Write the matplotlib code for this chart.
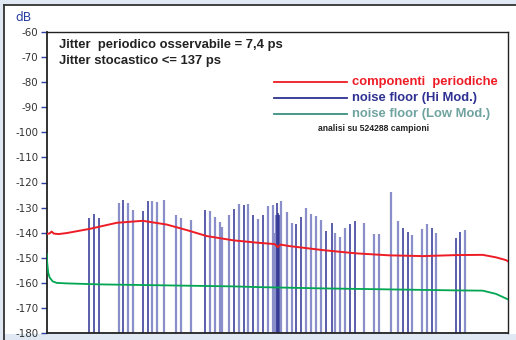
import numpy as np
import matplotlib.pyplot as plt
from matplotlib.patches import Rectangle
from matplotlib.lines import Line2D

plt.rcParams['axes.unicode_minus'] = False

# spettro: posizione (bin) e livello (dB) delle righe spettrali
spike_x = [42.6, 47.6, 52.6, 72.0, 76.6, 81.3, 86.3, 96.0, 101.0, 105.6,
           110.3, 117.0, 129.3, 134.3, 144.0, 158.3, 163.3, 168.3, 173.0, 175.6,
           182.0, 187.0, 192.0, 197.0, 201.6, 206.6, 211.3, 216.0, 221.0, 226.0,
           227.6, 229.3, 230.6, 231.6, 232.3, 234.0, 240.0, 245.0, 249.6, 254.6,
           259.3, 264.3, 269.0, 274.0, 279.0, 285.6, 288.3, 293.3, 298.0, 303.0,
           308.0, 317.0, 327.0, 332.0, 344.3, 351.0, 356.0, 361.0, 365.6, 375.3,
           380.0, 385.0, 389.6, 409.0, 413.6, 418.6]
spike_db = [-134.1, -132.6, -134.1, -128.0, -126.9, -128.0, -130.8, -131.2, -127.3, -127.4,
            -127.7, -126.9, -133.0, -134.2, -135.0, -130.8, -131.3, -133.6, -135.6, -137.8,
            -132.9, -130.6, -128.6, -128.9, -128.5, -133.0, -134.5, -133.0, -129.3, -128.9,
            -140.0, -133.0, -128.3, -132.0, -133.0, -127.3, -131.6, -136.0, -136.5, -133.6,
            -130.1, -132.6, -133.4, -134.8, -139.4, -136.1, -140.3, -141.8, -138.2, -136.5,
            -135.3, -136.2, -140.7, -140.6, -123.7, -135.3, -138.2, -139.9, -141.0, -138.6,
            -136.6, -138.0, -140.2, -142.3, -139.9, -138.9]
# 1 = noise floor Hi Mod. (scuro), 0 = chiaro
spike_dark = [1, 1, 1, 0, 1, 0, 0, 1, 1, 0,
              0, 0, 0, 0, 0, 1, 0, 0, 0, 0,
              0, 1, 0, 1, 0, 1, 0, 1, 0, 0,
              0, 0, 1, 1, 1, 0, 0, 0, 1, 1,
              0, 0, 0, 0, 1, 1, 0, 0, 0, 1,
              1, 0, 0, 0, 0, 0, 1, 1, 0, 0,
              0, 1, 0, 1, 1, 0]

# componenti periodiche (rosso)
red_x = [0, 3, 5, 7, 12, 20, 43.3, 70, 96, 120, 140, 160, 186.6, 209.3,
         228, 231, 234, 242.6, 276, 309.3, 342.6, 376, 409.3, 436, 449.3, 459.3, 461.3]
red_db = [-140.6, -140.3, -139.6, -140.4, -140.6, -140.2, -138.5, -136.1, -135.3, -136.8,
          -139.0, -141.4, -143.1, -144.0, -144.6, -145.8, -144.8, -145.4, -147.0, -148.3,
          -149.1, -149.4, -149.0, -148.9, -149.9, -151.0, -151.5]

# noise floor Low Mod. (verde)
green_x = [0, 0.5, 1.5, 3, 6, 10, 20, 53, 120, 186.6, 213, 276, 342.6, 409.3, 436, 449.3, 461.3]
green_db = [-148.5, -152.0, -156.0, -158.0, -159.5, -160.1, -160.3, -160.7, -161.1, -161.5,
            -161.8, -162.3, -162.7, -163.1, -163.2, -164.5, -166.7]

yticks = list(range(-60, -181, -10))

fig = plt.figure(figsize=(5.16, 3.40), dpi=100)
fig.patch.set_facecolor('#dfe8f3')
fig.patches.append(Rectangle((4 / 516, 6 / 340), 1, 329 / 340, transform=fig.transFigure,
                             facecolor='white', edgecolor='none', zorder=-5))
fig.lines.append(Line2D([3.5 / 516, 1], [335 / 340, 335 / 340], transform=fig.transFigure,
                        color='#333333', lw=1.3, zorder=-4))
fig.lines.append(Line2D([3.5 / 516, 3.5 / 516], [0, 335 / 340], transform=fig.transFigure,
                        color='#333333', lw=1.3, zorder=-4))

ax = fig.add_axes([46.7 / 516, 7.3 / 340, 461.3 / 516, 300.4 / 340])
ax.set_facecolor('none')
ax.set_zorder(2)
ax.set_xlim(0, 461.3)
ax.set_ylim(-180, -60)

dark_c = '#2e3192'
light_c = '#8b8fc9'
xs = np.array(spike_x)
ys = np.array(spike_db)
dk = np.array(spike_dark) == 1
ax.vlines(xs[~dk], -180, ys[~dk], color=light_c, lw=1.6, zorder=2)
ax.vlines(xs[dk], -180, ys[dk], color=dark_c, lw=1.1, zorder=2)

ax.plot(red_x, red_db, color='#ee1c25', lw=1.4, zorder=3)
ax.plot(green_x, green_db, color='#00a651', lw=1.3, zorder=3)

ax.set_yticks(yticks)
ax.set_xticks([])
ax.tick_params(axis='y', direction='out', length=4.5, width=1, color='#3040a0',
               labelsize=7.4, labelcolor='#333333', pad=1.5)
for s in ax.spines.values():
    s.set_color('#222222')
    s.set_linewidth(1.0)
ax.spines['left'].set_linewidth(1.3)
ax.spines['bottom'].set_linewidth(1.3)

fig.text(23 / 516, 1 - 17.5 / 340, 'dB', color='#2b3fa0', fontsize=8.8,
         ha='center', va='center', family='DejaVu Sans')

bold = dict(family='Liberation Sans', fontweight='bold', fontsize=9.4)
ax.text(12.6, -65.1, 'Jitter  periodico osservabile = 7,4 ps', color='#222222',
        va='center', ha='left', **bold)
ax.text(12.6, -71.4, 'Jitter stocastico <= 137 ps', color='#222222',
        va='center', ha='left', **bold)

leg_items = [('componenti  periodiche', '#ee1c25', '#ee1c25', -80.0),
             ('noise floor (Hi Mod.)', dark_c, dark_c, -86.1),
             ('noise floor (Low Mod.)', '#3a8f7f', '#6fa39f', -92.5)]
for label, lc, tc, yy in leg_items:
    ax.plot([227.3, 300.0], [yy, yy], color=lc, lw=1.3)
    ax.text(305.0, yy, label, color=tc, va='center', ha='left', **bold)

ax.text(327.3, -98.3, 'analisi su 524288 campioni', color='#222222', ha='center',
        va='center', family='Liberation Sans', fontweight='bold', fontsize=6.2)

fig.savefig('out.png', dpi=100, facecolor=fig.get_facecolor())
